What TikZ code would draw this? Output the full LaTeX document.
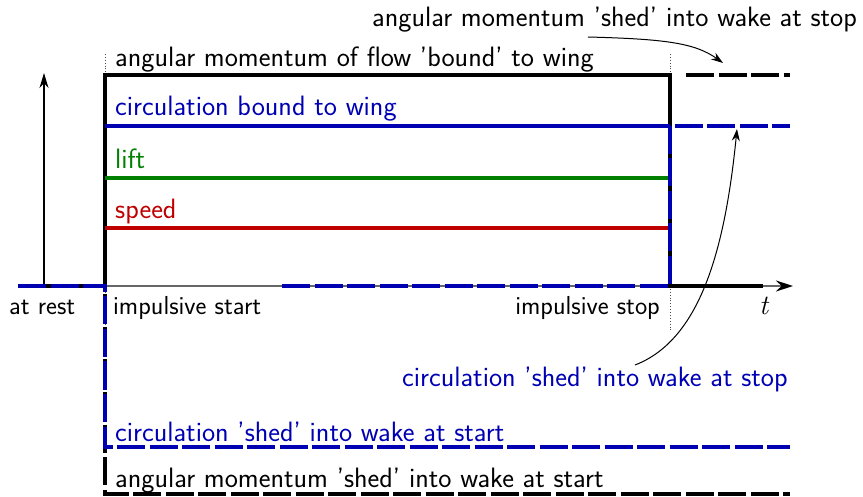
\documentclass[tikz,border=0pt]{standalone}
\usetikzlibrary{arrows.meta}
\definecolor{cblue}{RGB}{0,0,179}
\definecolor{cgreen}{RGB}{0,128,0}
\definecolor{cred}{RGB}{191,0,0}
\begin{document}
\begin{tikzpicture}[x=1pt,y=-1pt,
  font=\sffamily\fontsize{28}{33}\selectfont,
  lbl/.style={inner sep=0pt,anchor=base west},
  ticklbl/.style={inner sep=0pt,font=\sffamily\fontsize{26}{31}\selectfont},
  axisline/.style={draw=black!60,line width=1.5},
  guide/.style={black!70,line width=0.9,dotted},
  momline/.style={black,line width=4.5},
  momdash/.style={black,line width=4.5,dash pattern=on 28 off 4.5},
  circline/.style={cblue,line width=4},
  circdash/.style={cblue,line width=4,dash pattern=on 28 off 4.5},
  liftline/.style={cgreen,line width=3.8},
  speedline/.style={cred,line width=3.8},
  pointer/.style={black,line width=1,-{Stealth[length=12,width=8]}}]
\useasboundingbox (0,0) rectangle (863,497);

% key coordinates
\coordinate (rest) at (18,286);
\coordinate (s0) at (105,286);
\coordinate (s1) at (105,75);
\coordinate (e1) at (670,75);
\coordinate (e0) at (670,286);
\coordinate (axend) at (793,286);

% guides
\draw[guide] (105,54) -- (105,330);
\draw[guide] (670,54) -- (670,330);

% axes
\draw[axisline,-{Stealth[length=17,width=11,black]}] (rest) -- (axend);
\draw[black,line width=1.2,-{Stealth[length=15,width=9]}] (44,286) -- (44,73);

% angular momentum bound
\draw[momline] (rest) -- (s0) -- (s1) -- (e1) -- (e0) -- (763,286);
% angular momentum shed at stop
\draw[momdash] (686,75) -- (790,75);
% angular momentum shed at start
\draw[momdash,dash phase=24] (s0) -- (105,494) -- (790,494);

% lift and speed
\draw[liftline] (105,178) -- (670,178);
\draw[speedline] (105,228) -- (670,228);

% circulation bound
\draw[circline] (105,126) -- (670,126);
% circulation at rest / shed at start
\draw[circdash] (rest) -- (s0) -- (105,447) -- (790,447);
% circulation shed at stop
\draw[circdash] (282,286) -- (e0) -- (670,126) -- (790,126);

% labels
\node[lbl] (Lmstop) at (372,27) {angular momentum 'shed' into wake at stop};
\node[lbl] (Lmbound) at (115,67) {angular momentum of flow 'bound' to wing};
\node[lbl,text=cblue] (Lcbound) at (115,116) {circulation bound to wing};
\node[lbl,text=cgreen] (Llift) at (115,169) {lift};
\node[lbl,text=cred] (Lspeed) at (115,219) {speed};
\node[ticklbl,anchor=base west] (Lrest) at (9,315) {at rest};
\node[ticklbl,anchor=base west] (Lstart) at (113,315) {impulsive start};
\node[ticklbl,anchor=base east] (Lstop) at (660,315) {impulsive stop};
\node[lbl] (Lt) at (759,315) {\rmfamily\itshape t};
\node[lbl,text=cblue] (Lcstop) at (402,387) {circulation 'shed' into wake at stop};
\node[lbl,text=cblue] (Lcstart) at (115,441) {circulation 'shed' into wake at start};
\node[lbl] (Lmstart) at (115,487) {angular momentum 'shed' into wake at start};

% pointers
\coordinate (p1a) at (588,37);
\coordinate (p1b) at (723,63);
\coordinate (p2a) at (635,365);
\coordinate (p2b) at (737,129);
\draw[pointer] (p1a) .. controls (665,39) and (695,43) .. (p1b);
\draw[pointer] (p2a) .. controls (700,340) and (725,250) .. (p2b);
\end{tikzpicture}
\end{document}
